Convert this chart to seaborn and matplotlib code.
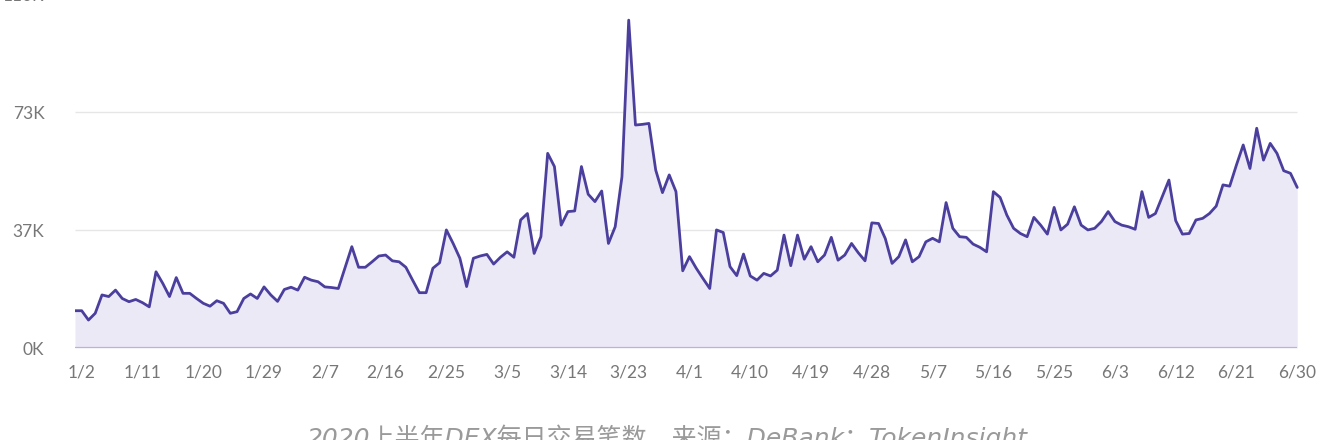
import numpy as np
import pandas as pd
import seaborn as sns
import matplotlib.pyplot as plt

# daily DEX trade counts, 2020-01-01 .. 2020-06-29 (thousands)
jan = [11.6, 11.6, 8.7, 10.8, 16.5, 16.0, 18.0, 15.4, 14.4, 15.1, 14.1, 12.8, 23.7, 20.1,
       16.0, 21.9, 17.0, 17.0, 15.4, 13.9, 13.0, 14.7, 13.9, 10.8, 11.3, 15.4, 16.8, 15.4,
       19.0, 16.5, 14.5]
feb = [18.2, 18.9, 18.0, 22.0, 21.1, 20.6, 19.0, 18.8, 18.5, 25.0, 31.5, 25.1, 25.1, 26.8,
       28.6, 28.9, 27.1, 26.8, 25.1, 21.1, 17.2, 17.2, 24.8, 26.5, 36.7, 32.5, 27.9, 19.1,
       27.9]
mar = [28.6, 29.1, 26.1, 28.2, 29.9, 28.2, 39.8, 41.8, 29.4, 34.6, 60.5, 56.4, 38.2, 42.4,
       42.6, 56.4, 47.8, 45.5, 48.8, 32.5, 37.7, 53.2, 101.9, 69.3, 69.5, 69.8, 55.3, 48.3,
       53.8, 48.6, 24.0]
apr = [28.4, 24.8, 21.6, 18.5, 36.7, 35.9, 25.3, 22.5, 29.2, 22.4, 21.1, 23.2, 22.4, 24.2,
       35.1, 25.6, 35.1, 27.6, 31.5, 26.8, 28.9, 34.4, 27.3, 28.9, 32.5, 29.6, 27.1, 38.9,
       38.7, 34.0]
may = [26.3, 28.4, 33.6, 26.8, 28.4, 33.0, 34.1, 33.0, 45.2, 37.2, 34.6, 34.4, 32.3, 31.3,
       29.9, 48.6, 46.8, 41.3, 37.2, 35.6, 34.6, 40.6, 38.2, 35.4, 43.7, 36.7, 38.5, 43.9,
       38.2, 36.7, 37.2]
jun = [39.3, 42.4, 39.3, 38.2, 37.7, 36.9, 48.6, 40.6, 41.8, 47.0, 52.2, 39.6, 35.4, 35.6,
       39.8, 40.3, 41.8, 44.1, 50.7, 50.3, 56.9, 63.1, 55.8, 68.3, 58.4, 63.6, 60.5, 55.1,
       54.3, 49.9]
trades = jan + feb + mar + apr + may + jun

tick_labels = ["1/2", "1/11", "1/20", "1/29", "2/7", "2/16", "2/25", "3/5", "3/14", "3/23",
               "4/1", "4/10", "4/19", "4/28", "5/7", "5/16", "5/25", "6/3", "6/12", "6/21",
               "6/30"]
y_ticks = [0, 110 / 3, 220 / 3, 110]
y_labels = ["0K", "37K", "73K", "110K"]
caption = "2020上半年DEX每日交易笔数，来源：DeBank；TokenInsight"

df = pd.DataFrame({"day": np.arange(len(trades)), "trades": trades})

sns.set_style("white")
plt.rcParams["font.family"] = ["Lato", "Noto Sans CJK SC", "DejaVu Sans"]

fig = plt.figure(figsize=(13.34, 4.4), dpi=100)
ax = fig.add_axes([0.0562, 0.209, 0.9213, 0.8045])

line_c = "#4b3f9e"
ax.fill_between(df["day"], 0, df["trades"], color="#ece9f7", lw=0, zorder=1)
sns.lineplot(data=df, x="day", y="trades", color=line_c, lw=2.0, ax=ax, zorder=3)

# grid lines only over the data span
for y in y_ticks[1:]:
    ax.hlines(y, 0, len(trades) - 1, color="#e6e6e6", lw=1.0, zorder=0)
ax.hlines(0, 0, len(trades) - 1, color="#b8b2de", lw=1.6, zorder=4)

ax.set_xlim(0, len(trades))
ax.set_ylim(0, 110)
ax.set_xticks(np.arange(1, len(trades) + 1, 9))
ax.set_xticklabels(tick_labels)
ax.set_yticks(y_ticks)
ax.set_yticklabels(y_labels)
ax.tick_params(axis="x", length=0, pad=12, labelsize=12.5, labelcolor="#777777")
ax.tick_params(axis="y", length=0, pad=22, labelsize=12.5, labelcolor="#777777")
ax.set_xlabel("")
ax.set_ylabel("")
sns.despine(ax=ax, left=True, bottom=True)

fig.text(0.5, 0.005, caption, ha="center", va="center", fontsize=18, color="#9a9a9a",
         style="italic", family=["DejaVu Sans", "Noto Sans CJK SC"])

fig.savefig("out.png", dpi=100)
